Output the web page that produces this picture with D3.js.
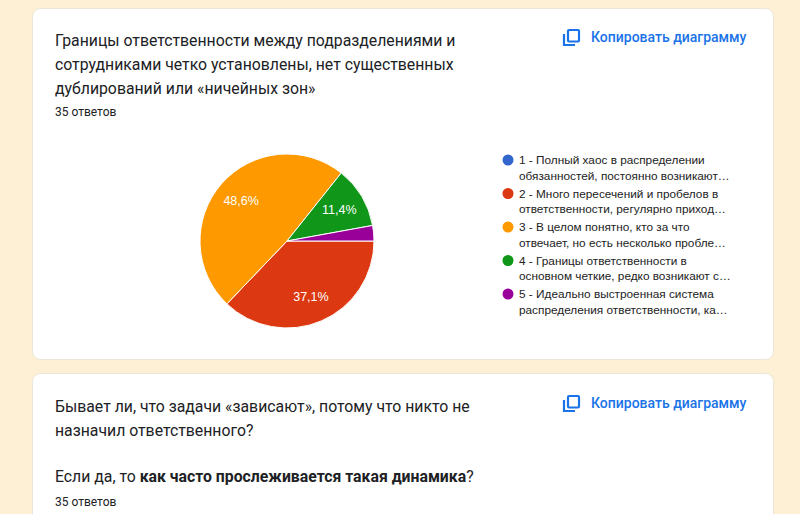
<!DOCTYPE html>
<html><head><meta charset="utf-8">
<script src="https://cdn.jsdelivr.net/npm/d3@7"></script>
<style>
html,body{margin:0;padding:0;background:#fdf0d5;}
svg{display:block;}
</style></head>
<body>
<svg id="c" width="800" height="514"></svg>
<script>
// ---- data ----
const title1 = ["Границы ответственности между подразделениями и",
                "сотрудниками четко установлены, нет существенных",
                "дублирований или «ничейных зон»"];
const responses1 = "35 ответов";
const categories = ["1", "2", "3", "4", "5"];
const legendLines = [
  ["1 - Полный хаос в распределении", "обязанностей, постоянно возникают…"],
  ["2 - Много пересечений и пробелов в", "ответственности, регулярно приход…"],
  ["3 - В целом понятно, кто за что", "отвечает, но есть несколько пробле…"],
  ["4 - Границы ответственности в", "основном четкие, редко возникают с…"],
  ["5 - Идеально выстроенная система", "распределения ответственности, ка…"]
];
const values = [0, 13, 17, 4, 1];
const colors = ["#3366cc", "#dc3912", "#ff9900", "#109618", "#990099"];
const title2a = ["Бывает ли, что задачи «зависают», потому что никто не",
                 "назначил ответственного?"];
const title2b = ["Если да, то ", "как часто прослеживается такая динамика", "?"];
const responses2 = "35 ответов";
const copyLabel = "Копировать диаграмму";

// ---- drawing ----
const svg = d3.select("#c");
const TF = "Roboto, 'Noto Sans', sans-serif";
const LF = "Arial, 'Liberation Sans', sans-serif";

function card(y, h) {
  svg.append("rect").attr("x", 32.5).attr("y", y + 0.5).attr("width", 741).attr("height", h)
    .attr("rx", 8).attr("fill", "#fff").attr("stroke", "#ece6d8").attr("stroke-width", 1);
}
card(8, 351);
card(373, 200);

function copyBtn(y) {
  const g = svg.append("g").attr("transform", `translate(563,${y})`);
  g.append("path").attr("d", "M1,5 V16 H12").attr("fill", "none")
    .attr("stroke", "#1a73e8").attr("stroke-width", 2.2);
  g.append("rect").attr("x", 5).attr("y", 1).attr("width", 11).attr("height", 11.5).attr("rx", 1)
    .attr("fill", "none").attr("stroke", "#1a73e8").attr("stroke-width", 2.2);
  svg.append("text").attr("x", 591).attr("y", y + 13).text(copyLabel)
    .attr("font-family", TF).attr("font-weight", 500).attr("font-size", 14)
    .attr("fill", "#1a73e8");
}
copyBtn(29);
copyBtn(395);

// Card 1 title
title1.forEach((t, i) => {
  svg.append("text").attr("x", 55).attr("y", 46 + i * 24).text(t)
    .attr("font-family", TF).attr("font-size", 15.8).attr("fill", "#202124");
});
svg.append("text").attr("x", 55).attr("y", 116).text(responses1)
  .attr("font-family", TF).attr("font-size", 12).attr("fill", "#202124");

// Pie
const cx = 287, cy = 241, r = 87;
const total = d3.sum(values);
const pie = d3.pie().sort(null).value(d => d)
  .startAngle(Math.PI / 2).endAngle(Math.PI / 2 + 2 * Math.PI);
const arcs = pie(values);
const arc = d3.arc().innerRadius(0).outerRadius(r);
const labelArc = d3.arc().innerRadius(r * 0.7).outerRadius(r * 0.7);
const pg = svg.append("g").attr("transform", `translate(${cx},${cy})`);
pg.selectAll("path").data(arcs).join("path")
  .attr("d", arc).attr("fill", (d, i) => colors[i])
  .attr("stroke", "#fff").attr("stroke-width", 1);
pg.selectAll("text").data(arcs.filter(d => d.value / total > 0.05)).join("text")
  .attr("transform", d => `translate(${labelArc.centroid(d)})`)
  .attr("text-anchor", "middle").attr("dy", "0.35em")
  .attr("font-family", LF).attr("font-size", 12.5).attr("fill", "#fff")
  .text(d => (d.value / total * 100).toFixed(1).replace(".", ",") + "%");

// Legend
const ly = d3.scalePoint().domain(categories).range([160, 294]);
const lg = svg.append("g");
categories.forEach((c, i) => {
  const y = ly(c);
  lg.append("circle").attr("cx", 508).attr("cy", y).attr("r", 5.5).attr("fill", colors[i]);
  legendLines[i].forEach((t, j) => {
    lg.append("text").attr("x", 519).attr("y", y + j * 15.5).attr("dy", "0.35em").text(t)
      .attr("font-family", LF).attr("font-size", 11.8).attr("fill", "#222");
  });
});

// Card 2 title
title2a.forEach((t, i) => {
  svg.append("text").attr("x", 55).attr("y", 412 + i * 24).text(t)
    .attr("font-family", TF).attr("font-size", 15.8).attr("fill", "#202124");
});
const t2 = svg.append("text").attr("x", 55).attr("y", 482)
  .attr("font-family", TF).attr("font-size", 15.8).attr("fill", "#202124");
title2b.forEach((t, i) => {
  t2.append("tspan").text(t).attr("font-weight", i === 1 ? 700 : 400);
});
svg.append("text").attr("x", 55).attr("y", 506).text(responses2)
  .attr("font-family", TF).attr("font-size", 12).attr("fill", "#202124");
</script>
</body></html>
